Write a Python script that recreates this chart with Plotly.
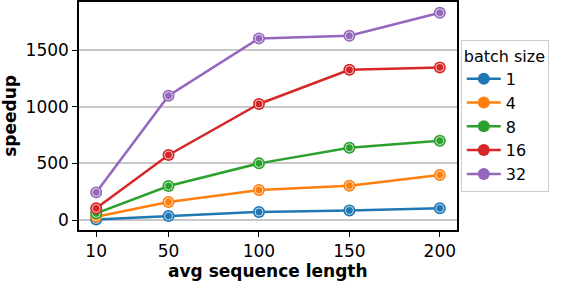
import plotly.graph_objects as go

seq_len = [10, 50, 100, 150, 200]
batch_sizes = ["1", "4", "8", "16", "32"]
speedup_1 = [5, 35, 71, 85, 104]
speedup_4 = [29, 159, 265, 303, 397]
speedup_8 = [59, 300, 500, 638, 700]
speedup_16 = [103, 574, 1024, 1326, 1347]
speedup_32 = [244, 1097, 1603, 1626, 1829]
series = [speedup_1, speedup_4, speedup_8, speedup_16, speedup_32]
colors = ["#1f77b4", "#ff7f0e", "#2ca02c", "#d62728", "#9467bd"]

fig = go.Figure()
for name, vals, c in zip(batch_sizes, series, colors):
    fig.add_trace(go.Scatter(
        x=seq_len, y=vals, name=name, mode="lines+markers",
        line=dict(color=c, width=2.5),
        marker=dict(symbol="circle", size=12, color=c, line=dict(width=0)),
    ))
    fig.add_trace(go.Scatter(
        x=seq_len, y=vals, mode="markers", showlegend=False, hoverinfo="skip",
        marker=dict(symbol="circle-open", size=8, color="rgba(255,255,255,0.8)",
                    line=dict(width=0.9, color="rgba(255,255,255,0.8)")),
    ))

font = "DejaVu Sans"
fig.update_layout(
    width=564, height=282,
    margin=dict(l=79, r=107, t=2, b=52, autoexpand=False),
    paper_bgcolor="white", plot_bgcolor="white",
    font=dict(family=font, size=17, color="black"),
    showlegend=True,
    legend=dict(
        title=dict(text="batch size", font=dict(size=16)),
        x=1.01, xanchor="left", y=0.5, yanchor="middle",
        bordercolor="#cccccc", borderwidth=1, bgcolor="white",
        font=dict(size=16), itemwidth=34, tracegroupgap=0,
    ),
    xaxis=dict(
        range=[0.5, 209.5], tickvals=seq_len, ticktext=[str(v) for v in seq_len],
        showline=True, linecolor="black", linewidth=1.5, mirror=True,
        ticks="outside", ticklen=5, tickwidth=1.2, tickcolor="black",
        showgrid=False, zeroline=False, automargin=False,
    ),
    yaxis=dict(
        range=[-88, 1924], tickvals=[0, 500, 1000, 1500],
        showline=True, linecolor="black", linewidth=1.5, mirror=True,
        ticks="outside", ticklen=5, tickwidth=1.2, tickcolor="black",
        showgrid=True, gridcolor="#c8c8c8", gridwidth=1.5, zeroline=False, automargin=False,
    ),
    annotations=[
        dict(text="<b>avg sequence length</b>", xref="paper", yref="paper",
             x=0.5, y=-0.178, xanchor="center", yanchor="middle",
             showarrow=False, font=dict(size=17)),
        dict(text="<b>speedup</b>", xref="paper", yref="paper",
             x=-0.183, y=0.5, xanchor="center", yanchor="middle", textangle=-90,
             showarrow=False, font=dict(size=17)),
    ],
)

fig.write_html("out.html", config={"displayModeBar": False},
               post_script="document.body.style.margin='0';document.body.style.overflow='hidden';")
